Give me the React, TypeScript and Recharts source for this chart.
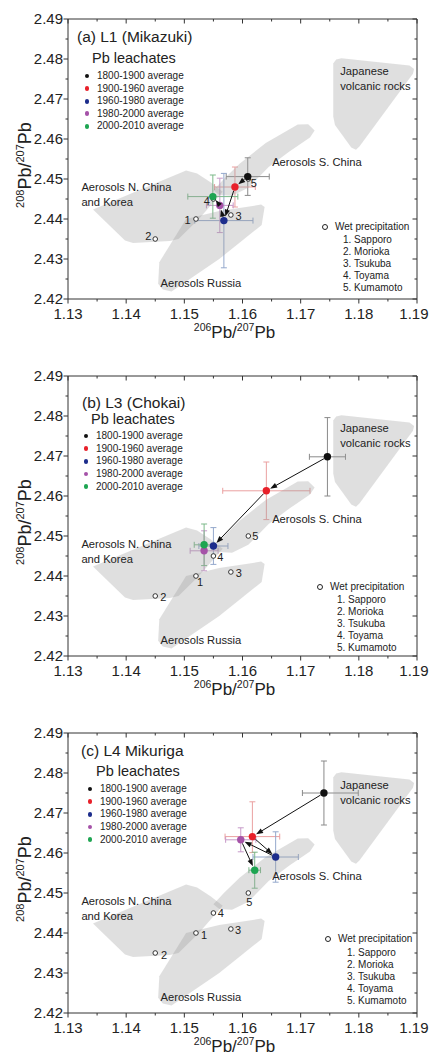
import React from "react";
import { ErrorBar, Legend, Scatter, ScatterChart, XAxis, YAxis } from "recharts";

const FONT = "'Liberation Sans', Arial, Helvetica, sans-serif";
const TEXT = "#222";
const AXIS = "#333";

const xTicks = [1.13, 1.135, 1.14, 1.145, 1.15, 1.155, 1.16, 1.165, 1.17, 1.175, 1.18, 1.185, 1.19];
const yTicks = [2.42, 2.425, 2.43, 2.435, 2.44, 2.445, 2.45, 2.455, 2.46, 2.465, 2.47, 2.475, 2.48, 2.485, 2.49];

const periods = ["1800-1900 average", "1900-1960 average", "1960-1980 average", "1980-2000 average", "2000-2010 average"];
const periodColors = ["#111111", "#e8202a", "#1d2d8c", "#a552a8", "#1ea552"];
const errorColors = ["#8a8a8a", "#eaa0a0", "#94a8cc", "#c79ac9", "#7cb98a"];

// (a) L1 Mikazuki
const l1X = [1.1609, 1.1587, 1.1568, 1.1561, 1.1549];
const l1Y = [2.4506, 2.448, 2.4396, 2.4434, 2.4456];
const l1Ex = [0.0037, 0.0035, 0.005, 0.0023, 0.0043];
const l1Ey = [0.0047, 0.005, 0.0118, 0.0068, 0.0054];
const l1Arrows = [[0, 1], [1, 2], [2, 3], [3, 4]];

// (b) L3 Chokai
const l3X = [1.1746, 1.1641, 1.155, 1.1534, 1.1534];
const l3Y = [2.4698, 2.4613, 2.4475, 2.4463, 2.4478];
const l3Ex = [0.0031, 0.0075, 0.0025, 0.0024, 0.0017];
const l3Ey = [0.0098, 0.0072, 0.0046, 0.005, 0.0052];
const l3Arrows = [[0, 1], [1, 2]];

// (c) L4 Mikuriga
const l4X = [1.174, 1.1617, 1.1657, 1.1597, 1.1621];
const l4Y = [2.475, 2.4641, 2.459, 2.4633, 2.4557];
const l4Ex = [[0.0037, 0.0059], 0.0047, 0.0039, 0.0026, 0.001];
const l4Ey = [0.008, [0.004, 0.0087], 0.0063, 0.003, 0.0045];
const l4Arrows = [[0, 1], [1, 2], [2, 3], [3, 4]];

// wet precipitation
const wetX = [1.152, 1.145, 1.158, 1.155, 1.161];
const wetY = [2.44, 2.435, 2.441, 2.445, 2.45];
const wetNums = ["1", "2", "3", "4", "5"];
const wetNames = ["Sapporo", "Morioka", "Tsukuba", "Toyama", "Kumamoto"];

// source regions
const japanX = [1.1756, 1.1756, 1.1761, 1.177, 1.1887, 1.1895, 1.1893, 1.1801, 1.1795, 1.1787, 1.1759];
const japanY = [2.4656, 2.4789, 2.4799, 2.4802, 2.4784, 2.4775, 2.4763, 2.4581, 2.4573, 2.4579, 2.4635];
const sChinaX = [1.155, 1.1568, 1.1595, 1.164, 1.1695, 1.1713, 1.1724, 1.1716, 1.168, 1.1645, 1.161, 1.1582, 1.156];
const sChinaY = [2.4472, 2.45, 2.4538, 2.459, 2.4636, 2.4637, 2.4621, 2.4604, 2.4568, 2.453, 2.4478, 2.4458, 2.446];
const nChinaX = [1.1343, 1.1503, 1.1522, 1.1545, 1.1566, 1.1525, 1.149, 1.1475, 1.1412, 1.1398];
const nChinaY = [2.4424, 2.4521, 2.4514, 2.4492, 2.4468, 2.44, 2.435, 2.4345, 2.434, 2.4346];
const russiaX = [1.1503, 1.156, 1.1632, 1.1638, 1.1633, 1.156, 1.1478, 1.1463, 1.1455, 1.1457];
const russiaY = [2.44, 2.442, 2.4436, 2.443, 2.4385, 2.43, 2.4219, 2.4224, 2.4238, 2.4292];

const regionText = ["Japanese\nvolcanic rocks", "Aerosols S. China", "Aerosols N. China\nand Korea", "Aerosols Russia"];
const regionTextX = [1.1768, 1.1651, 1.1323, 1.1459];
const regionTextY = [2.4769, 2.4542, 2.448, 2.424];

const polygons = [
  [japanX, japanY],
  [sChinaX, sChinaY],
  [nChinaX, nChinaY],
  [russiaX, russiaY],
];

type Layout = {
  titleX: number; titleY: number;
  leachX: number; leachY: number;
  markX: number; textX: number; rowY0: number; rowStep: number;
  wetMarkX: number; wetMarkY: number; wetTextX: number; wetItemX: number; wetRowY0: number;
};

const layA: Layout = { titleX: 77, titleY: 37, leachX: 92, leachY: 59, markX: 87, textX: 97, rowY0: 76, rowStep: 12.6, wetMarkX: 325, wetMarkY: 227, wetTextX: 335, wetItemX: 343, wetRowY0: 240 };
const layB: Layout = { titleX: 82, titleY: 46, leachX: 91, leachY: 63, markX: 86, textX: 96, rowY0: 79, rowStep: 12.7, wetMarkX: 320, wetMarkY: 230, wetTextX: 330, wetItemX: 337, wetRowY0: 243 };
const layC: Layout = { titleX: 81, titleY: 37, leachX: 96, leachY: 58, markX: 90, textX: 100, rowY0: 75, rowStep: 12.7, wetMarkX: 328, wetMarkY: 225, wetTextX: 338, wetItemX: 347, wetRowY0: 239 };

const wetOffA = [[-8.4, 1.3], [-7, -3], [7.7, 1], [-6.7, 1.7], [5.4, 4.4]];
const wetOffB = [[4, 6], [8, 1], [8, 1], [7, 1.5], [7, 0]];
const wetOffC = [[8, 2.5], [8.7, 2.5], [7.3, 1], [7.3, 0], [1, 9]];

const isMajor = (v: number) => Math.abs(v * 100 - Math.round(v * 100)) < 1e-6;

const BottomTick = (p: any) => {
  const v = p.payload.value;
  const major = isMajor(v);
  // keep the last label inside the picture
  const last = v >= 1.19 - 1e-9;
  return (
    <g>
      <line x1={p.x} y1={p.y} x2={p.x} y2={p.y + (major ? 4.5 : 2.5)} stroke={AXIS} />
      {major && (
        <text x={last ? p.x + 11.5 : p.x} y={p.y + 20} textAnchor={last ? "end" : "middle"} fontSize={15} fontFamily={FONT} fill={TEXT}>
          {v.toFixed(2)}
        </text>
      )}
    </g>
  );
};
const TopTick = (p: any) => {
  const major = isMajor(p.payload.value);
  return <line x1={p.x} y1={p.y} x2={p.x} y2={p.y + (major ? 4.5 : 2.5)} stroke={AXIS} />;
};
const LeftTick = (p: any) => {
  const v = p.payload.value;
  const major = isMajor(v);
  return (
    <g>
      <line x1={p.x} y1={p.y} x2={p.x - (major ? 4.5 : 2.5)} y2={p.y} stroke={AXIS} />
      {major && (
        <text x={p.x - 5} y={p.y} dy="0.36em" textAnchor="end" fontSize={15} fontFamily={FONT} fill={TEXT}>
          {v.toFixed(2)}
        </text>
      )}
    </g>
  );
};
const RightTick = (p: any) => {
  const major = isMajor(p.payload.value);
  return <line x1={p.x} y1={p.y} x2={p.x - (major ? 4.5 : 2.5)} y2={p.y} stroke={AXIS} />;
};

const XTitle = (p: any) => {
  const vb = p.viewBox;
  return (
    <text x={vb.x + vb.width / 2 - 8} y={vb.y + 39} textAnchor="middle" fontFamily={FONT} fill={TEXT} fontSize={17}>
      <tspan fontSize={10.5} dy={-7}>206</tspan>
      <tspan dy={7}>Pb/</tspan>
      <tspan fontSize={10.5} dy={-7}>207</tspan>
      <tspan dy={7}>Pb</tspan>
    </text>
  );
};
const YTitle = (p: any) => {
  const vb = p.viewBox;
  const cx = vb.x + 21;
  const cy = vb.y + vb.height / 2 + 6;
  return (
    <text x={cx} y={cy} transform={`rotate(-90 ${cx} ${cy})`} textAnchor="middle" dy="0.36em" fontFamily={FONT} fill={TEXT} fontSize={18}>
      <tspan fontSize={11} dy={-7}>208</tspan>
      <tspan dy={7}>Pb/</tspan>
      <tspan fontSize={11} dy={-7}>207</tspan>
      <tspan dy={7}>Pb</tspan>
    </text>
  );
};

const noShape = () => <g />;

const polygonLine = (props: any) => {
  const pts = (props.points || []) as { x: number; y: number }[];
  if (!pts.length) return <g />;
  const d = pts.map((q, i) => `${i ? "L" : "M"}${q.x},${q.y}`).join(" ") + " Z";
  return <path d={d} fill="#9a9a9a" fillOpacity={0.32} stroke="none" />;
};

const arrowLine = (props: any) => {
  const pts = (props.points || []) as { x: number; y: number }[];
  if (pts.length < 2) return <g />;
  const [a, b] = pts;
  const dx = b.x - a.x;
  const dy = b.y - a.y;
  const len = Math.hypot(dx, dy) || 1;
  const ux = dx / len;
  const uy = dy / len;
  const sx = a.x + ux * 4;
  const sy = a.y + uy * 4;
  const tx = b.x - ux * 4.3;
  const ty = b.y - uy * 4.3;
  const hl = 7;
  const hw = 2.6;
  const bx = tx - ux * hl;
  const by = ty - uy * hl;
  return (
    <g>
      <line x1={sx} y1={sy} x2={bx + ux} y2={by + uy} stroke="#111" strokeWidth={1} />
      <polygon points={`${tx},${ty} ${bx - uy * hw},${by + ux * hw} ${bx + uy * hw},${by - ux * hw}`} fill="#111" />
    </g>
  );
};

const dotShape = (color: string) => (p: any) => <circle cx={p.cx} cy={p.cy} r={3.7} fill={color} />;

const wetShape = (offsets: number[][]) => (p: any) => {
  const i = p.payload.i;
  return (
    <g>
      <circle cx={p.cx} cy={p.cy} r={2.3} fill="#fff" stroke="#222" strokeWidth={0.9} />
      <text x={p.cx + offsets[i][0]} y={p.cy + offsets[i][1]} dy="0.36em" textAnchor="middle" fontSize={11} fontFamily={FONT} fill={TEXT}>
        {wetNums[i]}
      </text>
    </g>
  );
};

const regionShape = (p: any) => {
  const lines = regionText[p.payload.i].split("\n");
  return (
    <text x={p.cx} y={p.cy} dy="0.36em" fontSize={11.2} fontFamily={FONT} fill={TEXT}>
      {lines.map((l, k) => (
        <tspan key={k} x={p.cx} dy={k === 0 ? "0.36em" : 15}>
          {l}
        </tspan>
      ))}
    </text>
  );
};

const rowStyle = (left: number, cy: number, size: number): React.CSSProperties => ({
  position: "absolute",
  left,
  top: cy - size * 0.6,
  fontSize: size,
  lineHeight: `${size * 1.2}px`,
  whiteSpace: "nowrap",
});

const PanelLegend = ({ title, lay, height }: { title: string; lay: Layout; height: number }) => (
  <div style={{ position: "relative", width: 430, height, fontFamily: FONT, color: TEXT, pointerEvents: "none" }}>
    <div style={rowStyle(lay.titleX, lay.titleY, 15.5)}>{title}</div>
    <div style={rowStyle(lay.leachX, lay.leachY, 14.5)}>Pb leachates</div>
    {periods.map((p, i) => {
      const cy = lay.rowY0 + i * lay.rowStep;
      return (
        <React.Fragment key={p}>
          <span style={{ position: "absolute", left: lay.markX - 2.4, top: cy - 2.4, width: 4.8, height: 4.8, borderRadius: "50%", background: periodColors[i] }} />
          <div style={rowStyle(lay.textX, cy, 10)}>{p}</div>
        </React.Fragment>
      );
    })}
    <span style={{ position: "absolute", left: lay.wetMarkX - 3, top: lay.wetMarkY - 3, width: 4.4, height: 4.4, borderRadius: "50%", border: "0.9px solid #222", background: "#fff" }} />
    <div style={rowStyle(lay.wetTextX, lay.wetMarkY, 10)}>Wet precipitation</div>
    {wetNames.map((n, i) => (
      <div key={n} style={rowStyle(lay.wetItemX, lay.wetRowY0 + i * 12, 10)}>{`${wetNums[i]}. ${n}`}</div>
    ))}
  </div>
);

type PanelProps = {
  title: string;
  xs: number[];
  ys: number[];
  exs: (number | number[])[];
  eys: (number | number[])[];
  arrows: number[][];
  wetOff: number[][];
  lay: Layout;
  height: number;
};

const Panel = ({ title, xs, ys, exs, eys, arrows, wetOff, lay, height }: PanelProps) => {
  const wetData = wetX.map((x, i) => ({ x, y: wetY[i], i }));
  const labelData = regionTextX.map((x, i) => ({ x, y: regionTextY[i], i }));
  return (
    <ScatterChart width={430} height={height} margin={{ top: 18, right: 12, left: 10, bottom: height - 337 }}>
      <XAxis xAxisId={0} type="number" dataKey="x" domain={[1.13, 1.19]} ticks={xTicks} interval={0} allowDataOverflow
        tick={BottomTick} tickLine={false} tickSize={0} tickMargin={0} height={38} stroke={AXIS} label={XTitle} />
      <XAxis xAxisId="top" orientation="top" type="number" dataKey="x" domain={[1.13, 1.19]} ticks={xTicks} interval={0} allowDataOverflow
        tick={TopTick} tickLine={false} tickSize={0} tickMargin={0} height={1} stroke={AXIS} />
      <YAxis yAxisId={0} type="number" dataKey="y" domain={[2.42, 2.49]} ticks={yTicks} interval={0} allowDataOverflow
        tick={LeftTick} tickLine={false} tickSize={0} tickMargin={0} width={58} stroke={AXIS} label={YTitle} />
      <YAxis yAxisId="right" orientation="right" type="number" dataKey="y" domain={[2.42, 2.49]} ticks={yTicks} interval={0} allowDataOverflow
        tick={RightTick} tickLine={false} tickSize={0} tickMargin={0} width={1} stroke={AXIS} />

      {polygons.map(([px, py], k) => (
        <Scatter key={`poly${k}`} data={px.map((x, i) => ({ x, y: py[i] }))} shape={noShape} line={polygonLine}
          legendType="none" isAnimationActive={false} />
      ))}

      <Scatter xAxisId="top" yAxisId="right" data={labelData} shape={regionShape} legendType="none" isAnimationActive={false} />
      <Scatter data={wetData} shape={wetShape(wetOff)} legendType="none" isAnimationActive={false} />

      {periods.map((p, i) => (
        <Scatter key={p} name={p} data={[{ x: xs[i], y: ys[i], ex: exs[i], ey: eys[i] }]} fill={periodColors[i]}
          shape={dotShape(periodColors[i])} isAnimationActive={false}>
          <ErrorBar dataKey="ex" direction="x" width={3} stroke={errorColors[i]} strokeWidth={1} isAnimationActive={false} />
          <ErrorBar dataKey="ey" direction="y" width={3} stroke={errorColors[i]} strokeWidth={1} isAnimationActive={false} />
        </Scatter>
      ))}

      {arrows.map(([from, to]) => (
        <Scatter key={`arr${from}-${to}`} data={[{ x: xs[from], y: ys[from] }, { x: xs[to], y: ys[to] }]}
          shape={noShape} line={arrowLine} legendType="none" isAnimationActive={false} />
      ))}

      <Legend content={() => <PanelLegend title={title} lay={lay} height={height} />} layout="vertical" align="center"
        verticalAlign="middle" wrapperStyle={{ left: 0, top: 0, width: 430, height }} />
    </ScatterChart>
  );
};

export default function App() {
  return (
    <div style={{ position: "absolute", left: 0, top: 0, width: 430, height: 1060, background: "#fff", overflow: "hidden" }}>
      <Panel title="(a) L1 (Mikazuki)" xs={l1X} ys={l1Y} exs={l1Ex} eys={l1Ey} arrows={l1Arrows} wetOff={wetOffA} lay={layA} height={357} />
      <Panel title="(b) L3 (Chokai)" xs={l3X} ys={l3Y} exs={l3Ex} eys={l3Ey} arrows={l3Arrows} wetOff={wetOffB} lay={layB} height={357} />
      <Panel title="(c) L4 Mikuriga" xs={l4X} ys={l4Y} exs={l4Ex} eys={l4Ey} arrows={l4Arrows} wetOff={wetOffC} lay={layC} height={346} />
    </div>
  );
}
